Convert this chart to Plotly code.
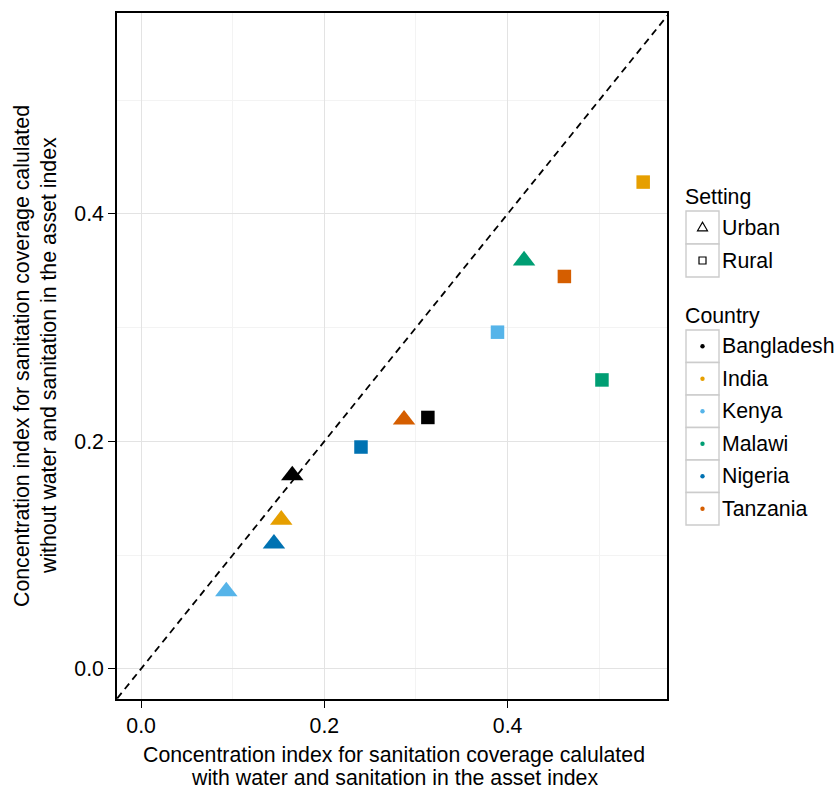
import plotly.graph_objects as go

# ---------------- data ----------------
countries = ["Bangladesh", "India", "Kenya", "Malawi", "Nigeria", "Tanzania"]
colors = ["#000000", "#E69F00", "#56B4E9", "#009E73", "#0072B2", "#D55E00"]
settings = ["Urban", "Rural"]
setting_symbols = ["triangle-up", "square"]

urban_x = [0.165, 0.153, 0.093, 0.418, 0.145, 0.287]
urban_y = [0.170, 0.131, 0.068, 0.359, 0.110, 0.219]
rural_x = [0.313, 0.548, 0.389, 0.503, 0.240, 0.462]
rural_y = [0.221, 0.428, 0.296, 0.254, 0.195, 0.345]

x_ticks = [0.0, 0.2, 0.4]
y_ticks = [0.0, 0.2, 0.4]
x_tick_labels = ["0.0", "0.2", "0.4"]
y_tick_labels = ["0.0", "0.2", "0.4"]
identity_line = [-0.1, 0.7]

x_title = ["Concentration index for sanitation coverage calulated",
           "with water and sanitation in the asset index"]
y_title = ["Concentration index for sanitation coverage calulated",
           "without water and sanitation in the asset index"]

# ---------------- layout constants ----------------
FW, FH = 835, 790
L, T = 117, 13
W, H = 550, 686
FONT = "Liberation Sans, Arial, Helvetica, sans-serif"
FS = 21.3


def PX(px):
    return (px - L) / W


def PY(py):
    return (T + H - py) / H


fig = go.Figure()

fig.add_trace(go.Scatter(
    x=identity_line, y=identity_line, mode="lines",
    line=dict(color="black", width=1.8, dash="7px,5px"),
    showlegend=False, hoverinfo="skip"))

setting_data = [(urban_x, urban_y), (rural_x, rural_y)]
for (sx, sy), sname, sym in zip(setting_data, settings, setting_symbols):
    for i, c in enumerate(countries):
        fig.add_trace(go.Scatter(
            x=[sx[i]], y=[sy[i]], mode="markers", name=f"{c} {sname}",
            marker=dict(symbol=sym, size=19.5 if sym == "triangle-up" else 13.5,
                        color=colors[i], line=dict(width=0)),
            showlegend=False))

axis_common = dict(
    showline=True, linecolor="black", linewidth=1.6, mirror=True,
    ticks="outside", ticklen=7, tickwidth=1.3, tickcolor="black",
    showgrid=True, gridcolor="#e3e3e3", gridwidth=1,
    zeroline=False,
    tickfont=dict(family=FONT, size=FS, color="black"),
    minor=dict(dtick=0.1, showgrid=True, gridcolor="#f3f3f3", gridwidth=1, ticks=""),
)

fig.update_xaxes(range=[-0.0263, 0.574], tickvals=x_ticks, ticktext=x_tick_labels,
                 **axis_common)
fig.update_yaxes(range=[-0.0266, 0.5767], tickvals=y_ticks, ticktext=y_tick_labels,
                 **axis_common)

annotations = []
shapes = []

# axis titles
for line, py in zip(x_title, [755, 778]):
    annotations.append(dict(text=line, xref="paper", yref="paper", x=PX(394), y=PY(py),
                            xanchor="center", yanchor="middle", showarrow=False,
                            font=dict(family=FONT, size=FS, color="black")))
for line, px in zip(y_title, [22, 49]):
    annotations.append(dict(text=line, xref="paper", yref="paper", x=PX(px), y=PY(356),
                            xanchor="center", yanchor="middle", showarrow=False,
                            textangle=-90,
                            font=dict(family=FONT, size=FS, color="black")))

# manual legend: Setting
BOX_X0, BOX_X1 = 686, 719
SYM_X = 702.5
LABEL_X = 719.5
BOX_COLOR = "#cccccc"
annotations.append(dict(text="Setting", xref="paper", yref="paper", x=PX(683), y=PY(197),
                        xanchor="left", yanchor="middle", showarrow=False,
                        font=dict(family=FONT, size=FS, color="black")))
for i, (sname, sym) in enumerate(zip(settings, setting_symbols)):
    y0 = 211 + 33 * i
    cy = y0 + 16.5
    shapes.append(dict(type="rect", xref="paper", yref="paper",
                       x0=PX(BOX_X0), x1=PX(BOX_X1), y0=PY(y0), y1=PY(y0 + 33),
                       line=dict(color=BOX_COLOR, width=1.4), fillcolor="white", layer="above"))
    if sym == "triangle-up":
        path = (f"M {PX(SYM_X - 5)},{PY(cy + 3.3)} L {PX(SYM_X + 5)},{PY(cy + 3.3)} "
                f"L {PX(SYM_X)},{PY(cy - 5.3)} Z")
        shapes.append(dict(type="path", xref="paper", yref="paper", path=path,
                           line=dict(color="black", width=1.2), layer="above"))
    else:
        shapes.append(dict(type="rect", xref="paper", yref="paper",
                           x0=PX(SYM_X - 3.5), x1=PX(SYM_X + 3.5),
                           y0=PY(cy + 3.5), y1=PY(cy - 3.5),
                           line=dict(color="black", width=1.2), layer="above"))
    annotations.append(dict(text=sname, xref="paper", yref="paper", x=PX(LABEL_X), y=PY(cy),
                            xanchor="left", yanchor="middle", showarrow=False,
                            font=dict(family=FONT, size=FS, color="black")))

# manual legend: Country
annotations.append(dict(text="Country", xref="paper", yref="paper", x=PX(683), y=PY(316),
                        xanchor="left", yanchor="middle", showarrow=False,
                        font=dict(family=FONT, size=FS, color="black")))
for i, (c, col) in enumerate(zip(countries, colors)):
    y0 = 330 + 32.5 * i
    cy = y0 + 16.25
    shapes.append(dict(type="rect", xref="paper", yref="paper",
                       x0=PX(BOX_X0), x1=PX(BOX_X1), y0=PY(y0), y1=PY(y0 + 32.5),
                       line=dict(color=BOX_COLOR, width=1.4), fillcolor="white", layer="above"))
    shapes.append(dict(type="circle", xref="paper", yref="paper",
                       x0=PX(SYM_X - 2.2), x1=PX(SYM_X + 2.2),
                       y0=PY(cy + 2.2), y1=PY(cy - 2.2),
                       line=dict(width=0), fillcolor=col, layer="above"))
    annotations.append(dict(text=c, xref="paper", yref="paper", x=PX(LABEL_X), y=PY(cy),
                            xanchor="left", yanchor="middle", showarrow=False,
                            font=dict(family=FONT, size=FS, color="black")))

fig.update_layout(
    width=FW, height=FH,
    margin=dict(l=L, r=FW - L - W, t=T, b=FH - T - H, autoexpand=False),
    paper_bgcolor="white", plot_bgcolor="white",
    font=dict(family=FONT, size=FS, color="black"),
    showlegend=False,
    annotations=annotations, shapes=shapes,
)

fig.write_html("out.html")
